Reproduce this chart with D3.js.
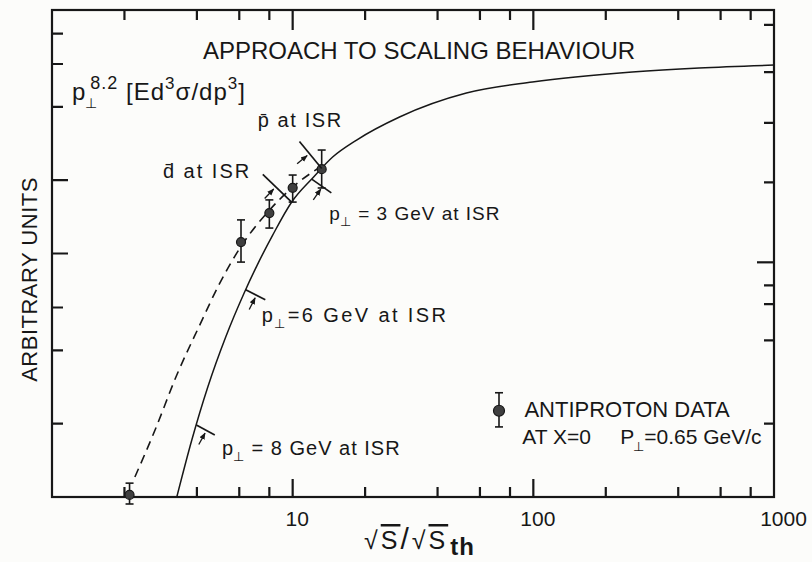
<!DOCTYPE html>
<html>
<head>
<meta charset="utf-8">
<script src="https://cdn.jsdelivr.net/npm/d3@7"></script>
<style>
  html, body { margin: 0; padding: 0; background: #fcfcfa; }
  svg { display: block; }
  text { font-family: "Liberation Sans", Arial, sans-serif; fill: #171717; white-space: pre; }
</style>
</head>
<body>
<svg id="chart" width="812" height="562"></svg>
<script>
// ---- axis ticks -------------------------------------------------------
const xMinorTicks = [2, 4, 6, 8, 20, 40, 60, 80, 200, 400, 600, 800];
const xMajorTicks = [10, 100, 1000];
const xTickLabels = ["10", "100", "1000"];
const yLeftTicks = [0.1, 0.2, 0.3, 2, 3, 4];
const yLeftLongTicks = [0.5, 1];
const yRightTicks = [0.1, 0.22, 0.31, 0.37, 0.98, 1.72, 2.78, 4.34];
const yRightLongTicks = [0.46];

// ---- scaling curve (solid) ---------------------------------------------
const scalingX = [3.30, 3.81, 4.44, 5.27, 6.26, 7.09, 8.26, 9.91, 12.11, 14.66, 18.44, 27.8, 52.7, 99.1, 257.5, 488.5, 1000];
const scalingY = [0.05, 0.0857, 0.1415, 0.227, 0.341, 0.444, 0.595, 0.814, 1.021, 1.245, 1.462, 1.818, 2.28, 2.53, 2.78, 2.89, 2.97];

// ---- extrapolation to low energy (dashed) ------------------------------
const extrapX = [2.21, 2.68, 3.30, 4.11, 4.98, 6.08, 7.95, 9.91, 13.19];
const extrapY = [0.0604, 0.0942, 0.1585, 0.254, 0.378, 0.532, 0.747, 0.929, 1.144];

// ---- antiproton data at x = 0 ------------------------------------------
const pbarX  = [2.1, 6.1, 8.0, 10.0, 13.2];
const pbarY  = [0.051, 0.557, 0.733, 0.93, 1.11];
const pbarHi = [0.057, 0.687, 0.83, 1.05, 1.33];
const pbarLo = [0.0468, 0.461, 0.636, 0.813, 0.929];

// ---- legend symbol -----------------------------------------------------
const legendX = [72];
const legendY = [0.113];
const legendHi = [0.134];
const legendLo = [0.097];

// ---- ISR thresholds marked on the scaling curve ------------------------
const thresholdAt = [13.2, 9.9, 12.0, 6.38, 3.98];
const thresholdSide = ["upLeft", "upLeft", "downRight", "downRight", "downRight"];

// ---- chart set-up -------------------------------------------------------
const ink = "#171717";
const svg = d3.select("#chart");
const frame = { left: 52, right: 774, top: 10, bottom: 497 };

const x = d3.scaleLog().domain([1, 1000]).range([frame.left, frame.right]);
const y = d3.scaleLog().domain([0.05, 5]).range([frame.bottom, frame.top]);

// tick labels along the bottom
const bottomAxis = svg.append("g")
  .attr("transform", `translate(0,${frame.bottom})`)
  .call(d3.axisBottom(x).tickValues(xMajorTicks).tickSize(0).tickPadding(14)
    .tickFormat((d, i) => xTickLabels[i]));
bottomAxis.select(".domain").remove();
bottomAxis.selectAll(".tick line").remove();
bottomAxis.selectAll(".tick text")
  .attr("font-size", 21)
  .attr("fill", ink)
  .attr("dx", d => (d === 1000 ? 9 : 4))
  .style("font-family", '"Liberation Sans", Arial, sans-serif');

// frame
svg.append("rect")
  .attr("x", frame.left).attr("y", frame.top)
  .attr("width", frame.right - frame.left).attr("height", frame.bottom - frame.top)
  .attr("fill", "none").attr("stroke", ink).attr("stroke-width", 2.2);

// ---- curves -------------------------------------------------------------
const scalingPts = scalingX.map((v, i) => [v, scalingY[i]]);
const extrapPts = extrapX.map((v, i) => [v, extrapY[i]]);
const line = d3.line()
  .x(d => x(d[0])).y(d => y(d[1]))
  .curve(d3.curveMonotoneX);

svg.append("path").attr("d", line(scalingPts))
  .attr("fill", "none").attr("stroke", ink).attr("stroke-width", 1.5);
svg.append("path").attr("d", line(extrapPts))
  .attr("fill", "none").attr("stroke", ink).attr("stroke-width", 1.6)
  .attr("stroke-dasharray", "9,6");

// ---- inward tick marks on all four sides --------------------------------
function xTickPath(values, edge, len, dir) {
  svg.append("path")
    .attr("d", values.map(v => `M${x(v)},${edge}V${edge + dir * len}`).join(""))
    .attr("fill", "none").attr("stroke", ink).attr("stroke-width", 2.2);
}
function yTickPath(values, edge, len, dir) {
  svg.append("path")
    .attr("d", values.map(v => `M${edge},${y(v)}H${edge + dir * len}`).join(""))
    .attr("fill", "none").attr("stroke", ink).attr("stroke-width", 2.2);
}
xTickPath(xMinorTicks, frame.bottom, 10, -1);
xTickPath(xMajorTicks.filter(v => v < 1000), frame.bottom, 18, -1);
xTickPath(xMinorTicks, frame.top, 10, 1);
xTickPath(xMajorTicks.filter(v => v < 1000), frame.top, 20, 1);
yTickPath(yLeftTicks, frame.left, 11, 1);
yTickPath(yLeftLongTicks, frame.left, 16, 1);
yTickPath(yRightTicks, frame.right, 10, -1);
yTickPath(yRightLongTicks, frame.right, 17, -1);

// ---- data points with error bars ---------------------------------------
function drawPoints(xs, ys, his, los, r, cap) {
  const g = svg.append("g");
  xs.forEach((xv, i) => {
    const cx = x(xv);
    g.append("line").attr("x1", cx).attr("x2", cx)
      .attr("y1", y(his[i])).attr("y2", y(los[i]))
      .attr("stroke", ink).attr("stroke-width", 1.6);
    [his[i], los[i]].forEach(v => {
      g.append("line").attr("x1", cx - cap).attr("x2", cx + cap)
        .attr("y1", y(v)).attr("y2", y(v))
        .attr("stroke", ink).attr("stroke-width", 1.6);
    });
    g.append("circle").attr("cx", cx).attr("cy", y(ys[i])).attr("r", r)
      .attr("fill", "#3f3f3f").attr("stroke", ink).attr("stroke-width", 1.2);
  });
}
drawPoints(pbarX, pbarY, pbarHi, pbarLo, 4.5, 4);
drawPoints(legendX, legendY, legendHi, legendLo, 5.5, 4);

// ---- threshold markers on the scaling curve ----------------------------
const screenPts = scalingPts.map(d => [x(d[0]), y(d[1])]);
function curveFrame(v) {
  const px = x(v);
  let i = 0;
  while (i < screenPts.length - 2 && screenPts[i + 1][0] < px) i++;
  const a = screenPts[i], b = screenPts[i + 1];
  const t = (px - a[0]) / (b[0] - a[0]);
  const p = [px, a[1] + t * (b[1] - a[1])];
  const dx = b[0] - a[0], dy = b[1] - a[1];
  const len = Math.hypot(dx, dy);
  return { p, tan: [dx / len, dy / len] };
}
const rotate = (v, deg) => {
  const r = deg * Math.PI / 180, c = Math.cos(r), s = Math.sin(r);
  return [v[0] * c - v[1] * s, v[0] * s + v[1] * c];
};
// bar length and a small tilt away from the exact normal, per marker
const barLength = [35, 40, 24, 22, 21];
const barTilt = [7, 14, -6, 2, 12];
const defs = svg.append("defs");
defs.append("marker").attr("id", "arrowhead")
  .attr("viewBox", "0 0 10 10").attr("refX", 9).attr("refY", 5)
  .attr("markerWidth", 7).attr("markerHeight", 7).attr("orient", "auto")
  .attr("markerUnits", "userSpaceOnUse")
  .append("path").attr("d", "M0,1 L10,5 L0,9 Z").attr("fill", ink);

thresholdAt.forEach((v, i) => {
  const { p, tan } = curveFrame(v);
  const n0 = thresholdSide[i] === "upLeft" ? [tan[1], -tan[0]] : [-tan[1], tan[0]];
  const n = rotate(n0, barTilt[i]);
  const ta = thresholdSide[i] === "upLeft" ? [-n[1], n[0]] : [n[1], -n[0]];
  const L = barLength[i];
  svg.append("line")
    .attr("x1", p[0]).attr("y1", p[1])
    .attr("x2", p[0] + n[0] * L).attr("y2", p[1] + n[1] * L)
    .attr("stroke", ink).attr("stroke-width", 1.7);
  const along = L * 0.55;
  const tip = [p[0] + n[0] * along - ta[0] * 3, p[1] + n[1] * along - ta[1] * 3];
  const tail = [tip[0] - ta[0] * 13, tip[1] - ta[1] * 13];
  svg.append("line")
    .attr("x1", tail[0]).attr("y1", tail[1]).attr("x2", tip[0]).attr("y2", tip[1])
    .attr("stroke", ink).attr("stroke-width", 1.3)
    .attr("marker-end", "url(#arrowhead)");
});

// ---- text ----------------------------------------------------------------
function richText(px, py, segs, size, opts = {}) {
  const t = svg.append("text").attr("x", px).attr("y", py)
    .attr("font-size", size)
    .attr("letter-spacing", opts.spacing || 0)
    .attr("text-anchor", opts.anchor || "start");
  let offset = 0;
  segs.forEach(s => {
    const target = s.shift === "sub" ? (s.drop || size * 0.32) : s.shift === "sup" ? -size * 0.45 : 0;
    const ts = t.append("tspan").text(s.t).attr("dy", target - offset);
    if (s.dx) ts.attr("dx", s.dx);
    if (s.size) ts.attr("font-size", s.size);
    if (s.weight) ts.attr("font-weight", s.weight);
    if (s.deco) ts.style("text-decoration", s.deco);
    if (s.spacing !== undefined) ts.attr("letter-spacing", s.spacing);
    offset = target;
  });
  return t;
}

// title
richText(419, 59, [{ t: "APPROACH TO SCALING BEHAVIOUR" }], 24, { anchor: "middle" });

// quantity plotted
richText(72, 100, [
  { t: "p" }, { t: "\u22A5", shift: "sub", size: 14, dx: -1 },
  { t: "8.2", shift: "sup", size: 18, dx: -8 },
  { t: " [Ed" }, { t: "3", shift: "sup", size: 17 },
  { t: "\u03C3/dp" }, { t: "3", shift: "sup", size: 17 }, { t: "]" }
], 24, { spacing: 1 });

// threshold labels
const pperp = (rest) => [{ t: "p" }, { t: "\u22A5", shift: "sub", size: 13, dx: -1 }, { t: rest }];
richText(x(7.16), y(1.65), [{ t: "p\u0304 at ISR" }], 20, { spacing: 1.6 });
richText(x(2.89), y(1.02), [{ t: "d\u0304 at ISR" }], 20, { spacing: 2 });
richText(x(14.2), y(0.687), pperp(" = 3 GeV at ISR"), 19, { spacing: 1 });
richText(x(7.44), y(0.262), pperp("=6 GeV at ISR"), 20, { spacing: 2.4 });
richText(x(5.08), y(0.0744), pperp(" = 8 GeV at ISR"), 20, { spacing: 1 });

// legend text
richText(x(91.8), y(0.1066), [{ t: "ANTIPROTON DATA" }], 22);
richText(x(90), y(0.0826), [
  { t: "AT X=0     P" }, { t: "\u22A5", shift: "sub", size: 13, dx: -1 }, { t: "=0.65 GeV/c" }
], 21);

// axis titles
richText(0, 0, [{ t: "ARBITRARY UNITS" }], 22, { anchor: "middle", spacing: 0.5 })
  .attr("transform", `translate(37,${(frame.top + frame.bottom) / 2 + 26}) rotate(-90)`)
  .attr("x", 0).attr("y", 0);

richText(364, 549, [
  { t: "\u221A" }, { t: "S", deco: "overline" }, { t: "/", size: 30 },
  { t: "\u221A" }, { t: "S", deco: "overline" },
  { t: "th", shift: "sub", drop: 6, size: 24, weight: "bold", spacing: 1, dx: 2 }
], 25, { spacing: 3 });
</script>
</body>
</html>
